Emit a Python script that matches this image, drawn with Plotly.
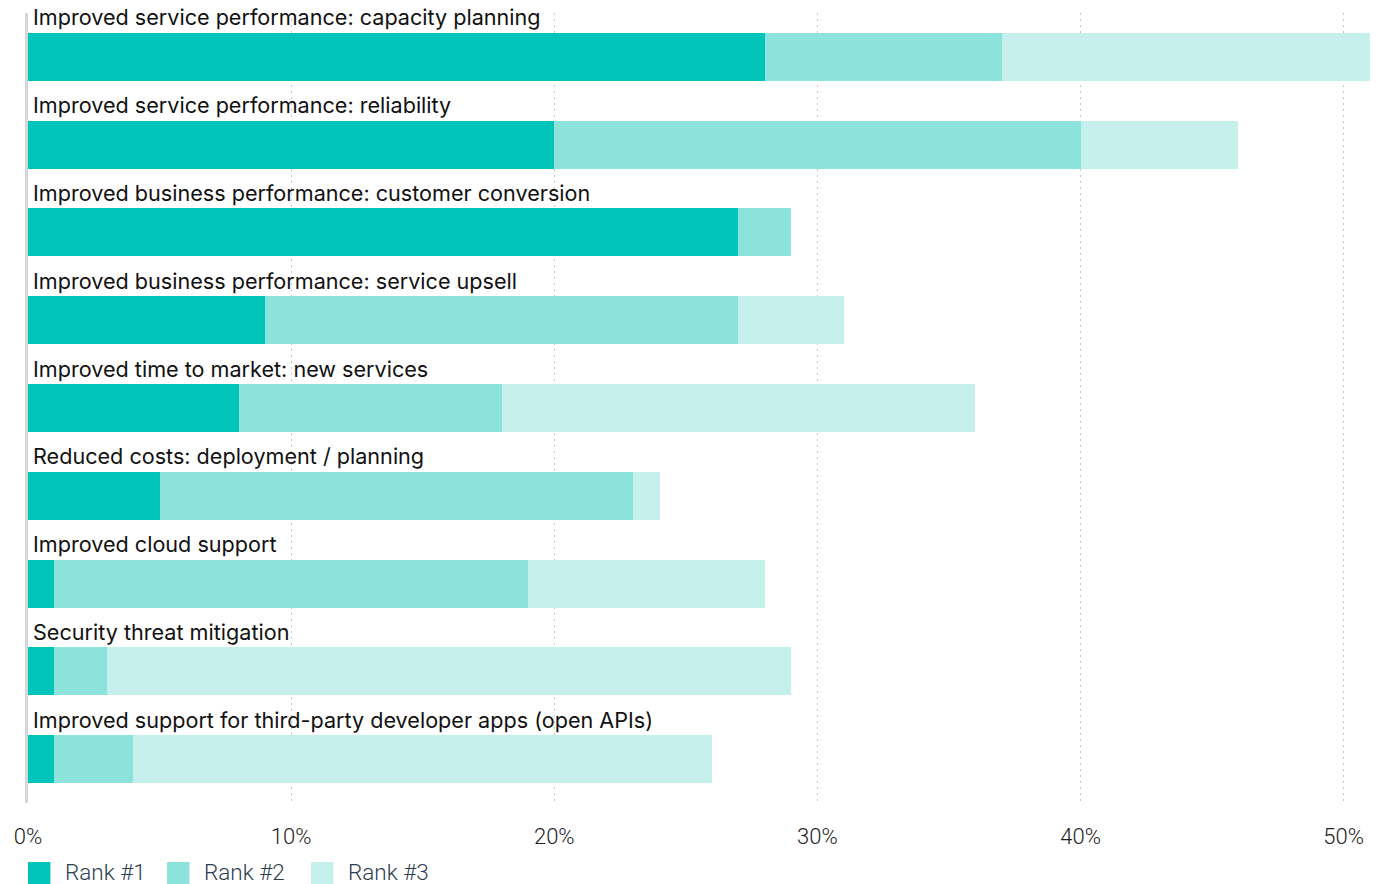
import plotly.graph_objects as go

categories = [
    "Improved service performance: capacity planning",
    "Improved service performance: reliability",
    "Improved business performance: customer conversion",
    "Improved business performance: service upsell",
    "Improved time to market: new services",
    "Reduced costs: deployment / planning",
    "Improved cloud support",
    "Security threat mitigation",
    "Improved support for third-party developer apps (open APIs)",
]
rank1 = [28, 20, 27, 9, 8, 5, 1, 1, 1]
rank2 = [9, 20, 2, 18, 10, 18, 18, 2, 3]
rank3 = [14, 6, 0, 4, 18, 1, 9, 26, 22]
series_names = ["Rank #1", "Rank #2", "Rank #3"]
colors = ["#00C5B8", "#8BE3DC", "#C6F0EC"]
tick_vals = [0, 10, 20, 30, 40, 50]
tick_text = ["0%", "10%", "20%", "30%", "40%", "50%"]

FONT = "Roboto"
LABEL_FONT = "Inter"

fig = go.Figure()
for name, vals, col in zip(series_names, [rank1, rank2, rank3], colors):
    fig.add_trace(go.Bar(
        y=categories, x=vals, name=name, orientation="h",
        marker=dict(color=col, line=dict(width=0)),
        showlegend=False, hoverinfo="x+name",
    ))

for c in categories:
    fig.add_annotation(
        x=0, y=c, xref="x", yref="y", text=c, showarrow=False,
        xanchor="left", yanchor="middle", xshift=3, yshift=39.5,
        font=dict(family=LABEL_FONT, size=21.6, color="#111111"),
    )

# custom legend
leg_x = [0.0, 0.1036, 0.2109]
for name, col, lx in zip(series_names, colors, leg_x):
    fig.add_shape(type="rect", xref="paper", yref="paper",
                  x0=lx, x1=lx + 0.0167, y0=-0.1025, y1=-0.0747,
                  fillcolor=col, line=dict(width=0))
    fig.add_annotation(x=lx + 0.0258, y=-0.0872, xref="paper", yref="paper",
                       text=name, showarrow=False, xanchor="left", yanchor="middle",
                       font=dict(family=FONT, size=22.5, color="#2c3e50", weight=300))

fig.update_layout(
    width=1383, height=884,
    margin=dict(l=28, r=13, t=13, b=81),
    barmode="stack", bargap=0.453,
    plot_bgcolor="white", paper_bgcolor="white",
    xaxis=dict(range=[0, 51], tickvals=tick_vals, ticktext=tick_text,
               showgrid=True, gridcolor="#c8c8c8", griddash="2px,4px", gridwidth=1,
               zeroline=False, showline=False, ticks="outside", ticklen=14,
               tickcolor="rgba(0,0,0,0)", automargin=False,
               tickfont=dict(family=FONT, size=22, color="#222222", weight=300)),
    yaxis=dict(range=[8.5, -0.5], showticklabels=False, showgrid=False,
               zeroline=False, showline=True, linecolor="#d6d6d6", linewidth=3,
               automargin=False),
)

fig.write_html("out.html")
